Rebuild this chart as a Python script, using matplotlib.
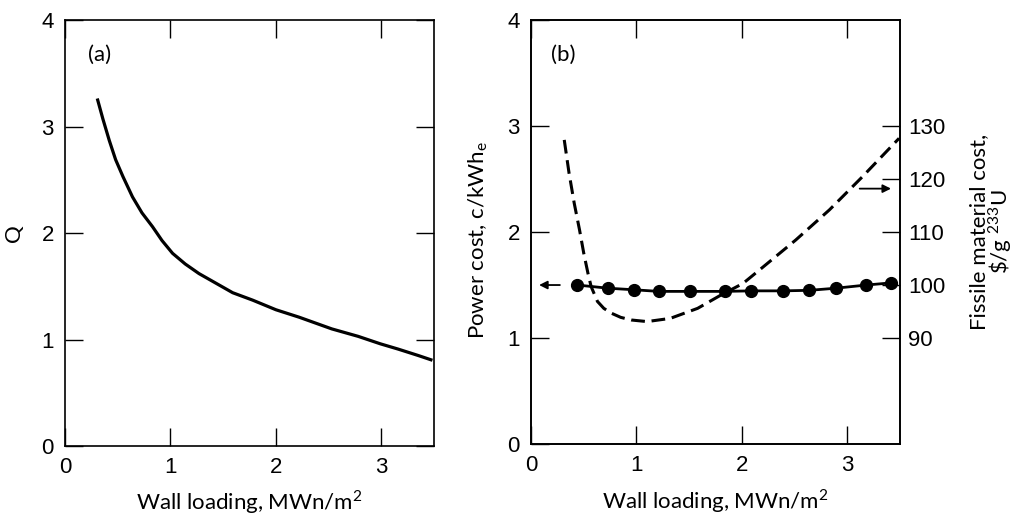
import numpy as np
import matplotlib.pyplot as plt

# ---------------------------------------------
# data
# ---------------------------------------------

# (a) Q versus wall loading
wall_a = [0.31, 0.36, 0.42, 0.48, 0.55, 0.64, 0.73, 0.83, 0.92, 1.02, 1.14, 1.27,
          1.43, 1.59, 1.78, 2.00, 2.22, 2.53, 2.78, 2.99, 3.16, 3.35, 3.47]
q_vals = [3.25, 3.07, 2.87, 2.69, 2.53, 2.34, 2.19, 2.06, 1.93, 1.81, 1.71, 1.62,
          1.53, 1.44, 1.37, 1.28, 1.21, 1.10, 1.03, 0.96, 0.91, 0.85, 0.81]

# (b) fissile material cost ($/g 233U), dashed, right axis
wall_fissile = [0.315, 0.36, 0.41, 0.46, 0.50, 0.54, 0.57, 0.63, 0.69, 0.76, 0.85, 0.95,
                1.10, 1.32, 1.58, 1.80, 2.01, 2.20, 2.51, 2.83, 3.14, 3.49]
fissile_cost = [127.4, 121.2, 115.4, 110.4, 106.0, 102.2, 99.7, 96.9, 95.6, 94.7, 93.9, 93.4,
                93.1, 93.7, 95.6, 98.1, 100.3, 103.4, 108.5, 114.2, 120.4, 127.7]

# (b) power cost (c/kWh_e), dots, left axis
wall_power = [0.44, 0.73, 0.98, 1.21, 1.51, 1.84, 2.09, 2.39, 2.64, 2.89, 3.18, 3.41]
power_cost = [1.50, 1.47, 1.455, 1.44, 1.44, 1.44, 1.445, 1.445, 1.45, 1.47, 1.50, 1.52]

# arrows telling which axis each curve belongs to
arrow_left = ((0.30, 1.50), (0.05, 1.50))      # power cost -> left axis
arrow_right = ((3.09, 118.2), (3.44, 118.2))   # fissile cost -> right axis

tick_font = 'Liberation Sans'
label_font = 'Lato'

fig = plt.figure(figsize=(10.14, 5.18), dpi=100)
ax_a = fig.add_axes([0.0641, 0.139, 0.364, 0.822])
ax_b = fig.add_axes([0.5237, 0.143, 0.364, 0.818])


def style_axes(ax, right=True):
    ax.set_xlim(0, 3.5)
    ax.set_ylim(0, 4)
    ax.set_xticks([0, 1, 2, 3])
    ax.set_yticks([0, 1, 2, 3, 4])
    ax.tick_params(direction='in', length=13, width=1, top=True, right=right,
                   labelsize=16, pad=8)
    for lab in ax.get_xticklabels() + ax.get_yticklabels():
        lab.set_family(tick_font)
    for sp in ax.spines.values():
        sp.set_linewidth(1.2)


# ---------------------------------------------
# panel (a)
# ---------------------------------------------
style_axes(ax_a)
ax_a.plot(wall_a, q_vals, color='black', lw=2.3)
ax_a.set_xlabel('Wall loading, MWn/m$^\\mathregular{2}$', family=label_font, fontsize=16)
ax_a.xaxis.set_label_coords(0.5, -0.098)
ax_a.set_ylabel('Q', family=label_font, fontsize=16)
ax_a.yaxis.set_label_coords(-0.111, 0.5)
ax_a.text(0.062, 0.905, '(a)', transform=ax_a.transAxes, family=label_font, fontsize=16)

# ---------------------------------------------
# panel (b)
# ---------------------------------------------
style_axes(ax_b, right=False)
ax_b.plot(wall_power, power_cost, color='black', lw=2, marker='o', ms=8.5)
ax_b.set_xlabel('Wall loading, MWn/m$^\\mathregular{2}$', family=label_font, fontsize=16)
ax_b.xaxis.set_label_coords(0.5, -0.102)
ax_b.set_ylabel('Power cost, c/kWh$_\\mathregular{e}$', family=label_font, fontsize=16)
ax_b.yaxis.set_label_coords(-0.111, 0.48)
ax_b.text(0.055, 0.905, '(b)', transform=ax_b.transAxes, family=label_font, fontsize=16)
ax_b.annotate('', xy=arrow_left[1], xytext=arrow_left[0],
              arrowprops=dict(arrowstyle='-|>', color='black', lw=1.3, mutation_scale=12))

ax_f = ax_b.twinx()
ax_f.set_ylim(70, 150)
ax_f.set_yticks([90, 100, 110, 120, 130])
ax_f.tick_params(direction='in', length=13, width=1, labelsize=16, pad=6)
for lab in ax_f.get_yticklabels():
    lab.set_family(tick_font)
ax_f.plot(wall_fissile, fissile_cost, color='black', lw=2.2, dashes=(4.5, 2.2))
ax_f.set_ylabel('Fissile material cost,\n\\$/g $^\\mathregular{233}$U', family=label_font,
                fontsize=16, linespacing=0.85)
ax_f.yaxis.set_label_coords(1.187, 0.5)
ax_f.annotate('', xy=arrow_right[1], xytext=arrow_right[0],
              arrowprops=dict(arrowstyle='-|>', color='black', lw=1.3, mutation_scale=12))
for sp in ax_f.spines.values():
    sp.set_linewidth(1.2)

fig.savefig('out.png', dpi=100)
